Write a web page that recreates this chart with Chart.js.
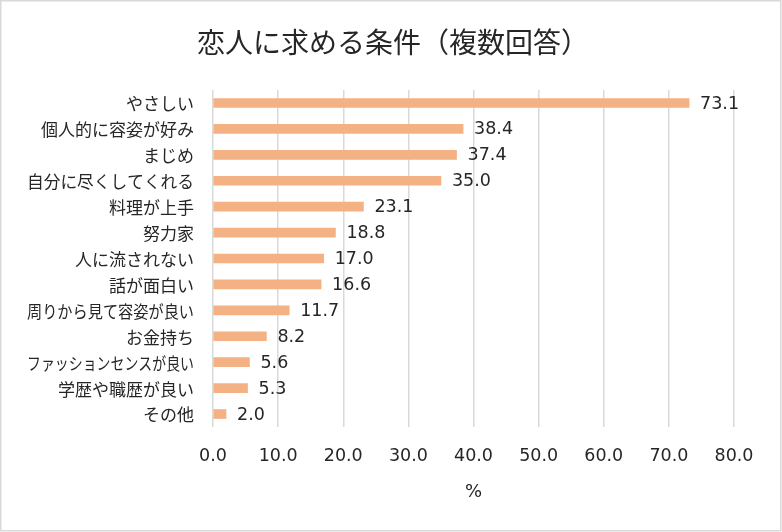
<!DOCTYPE html>
<html><head><meta charset="utf-8">
<script src="https://cdn.jsdelivr.net/npm/chart.js@4"></script>
<style>
html,body{margin:0;padding:0;background:#fff;}
#wrap{width:782px;height:532px;position:relative;}
</style></head>
<body><div id="wrap"><canvas id="c" width="782" height="532"></canvas></div>
<script>
const titleText = '恋人に求める条件（複数回答）';
const categories = ['やさしい','個人的に容姿が好み','まじめ','自分に尽くしてくれる','料理が上手','努力家','人に流されない','話が面白い','周りから見て容姿が良い','お金持ち','ファッションセンスが良い','学歴や職歴が良い','その他'];
const values = [73.1,38.4,37.4,35.0,23.1,18.8,17.0,16.6,11.7,8.2,5.6,5.3,2.0];
const xTicks = [0,10,20,30,40,50,60,70,80];
const axisTitle = '%';

const JP = "'Noto Sans CJK JP', sans-serif";
const NUM = "'DejaVu Sans', sans-serif";
const TXT = '#262626';

const overlay = {
  id: 'overlay',
  beforeDraw(chart) {
    const ctx = chart.ctx;
    ctx.save();
    ctx.fillStyle = '#fff';
    ctx.fillRect(0,0,chart.width,chart.height);
    ctx.strokeStyle = '#d9d9d9';
    ctx.lineWidth = 1.5;
    ctx.strokeRect(0.75,0.75,chart.width-2,chart.height-2);
    ctx.restore();
  },
  afterDatasetsDraw(chart) {
    const ctx = chart.ctx;
    const meta = chart.getDatasetMeta(0);
    const yScale = chart.scales.y;
    ctx.save();
    // title
    ctx.font = '28px ' + JP;
    ctx.fillStyle = TXT;
    ctx.textAlign = 'left';
    ctx.textBaseline = 'middle';
    ctx.fillText(titleText, 197, 42);
    // category labels
    ctx.font = '17px ' + JP;
    ctx.textAlign = 'right';
    categories.forEach((c, i) => {
      ctx.fillText(c, yScale.right - 19, yScale.getPixelForValue(i) + 1, 167);
    });
    // data labels
    ctx.font = '17.5px ' + NUM;
    ctx.textAlign = 'left';
    meta.data.forEach((bar, i) => {
      ctx.fillText(values[i].toFixed(1), bar.x + 11, bar.y + 1);
    });
    ctx.restore();
  }
};

new Chart(document.getElementById('c'), {
  type: 'bar',
  data: {
    labels: categories,
    datasets: [{ data: values, backgroundColor: '#F4B183', barThickness: 9 }]
  },
  options: {
    indexAxis: 'y',
    responsive: false,
    animation: false,
    devicePixelRatio: 1,
    layout: { padding: { top: 90, left: 0, right: 48, bottom: 20 } },
    plugins: {
      legend: { display: false },
      tooltip: { enabled: false },
      title: { display: false }
    },
    scales: {
      x: {
        min: 0, max: 80,
        afterBuildTicks(scale) { scale.ticks = xTicks.map(v => ({ value: v })); },
        ticks: { color: TXT, padding: 19, font: { family: NUM, size: 17.5 }, callback: v => Number(v).toFixed(1), maxRotation: 0 },
        grid: { color: '#d9d9d9', lineWidth: 1.5, drawTicks: false },
        border: { display: false },
        title: { display: true, text: axisTitle, color: TXT, font: { family: NUM, size: 18 }, padding: { top: 0, bottom: 9 } },
        afterFit(scale) { scale.height = 85; }
      },
      y: {
        ticks: { display: false },
        grid: { display: false, drawTicks: false },
        border: { display: false },
        afterFit(scale) { scale.width = 213; }
      }
    }
  },
  plugins: [overlay]
});
</script></body></html>
